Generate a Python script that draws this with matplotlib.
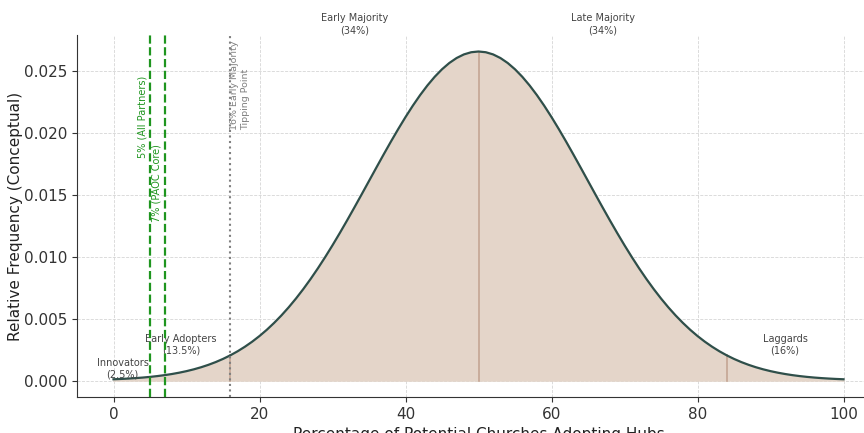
import numpy as np
import matplotlib.pyplot as plt

# adoption curve at every percent (0..100)
pct = list(range(0, 101))
freq = [0.000103, 0.000128, 0.000159, 0.000196, 0.000241, 0.000295, 0.000360, 0.000437,
        0.000528, 0.000635, 0.000760, 0.000906, 0.001075, 0.001270, 0.001493, 0.001748,
        0.002038, 0.002365, 0.002733, 0.003143, 0.003599, 0.004103, 0.004658, 0.005263,
        0.005921, 0.006632, 0.007395, 0.008209, 0.009072, 0.009982, 0.010934, 0.011924,
        0.012946, 0.013993, 0.015057, 0.016131, 0.017205, 0.018269, 0.019313, 0.020325,
        0.021296, 0.022215, 0.023070, 0.023852, 0.024551, 0.025159, 0.025667, 0.026069,
        0.026361, 0.026537, 0.026596, 0.026537, 0.026361, 0.026069, 0.025667, 0.025159,
        0.024551, 0.023852, 0.023070, 0.022215, 0.021296, 0.020325, 0.019313, 0.018269,
        0.017205, 0.016131, 0.015057, 0.013993, 0.012946, 0.011924, 0.010934, 0.009982,
        0.009072, 0.008209, 0.007395, 0.006632, 0.005921, 0.005263, 0.004658, 0.004103,
        0.003599, 0.003143, 0.002733, 0.002365, 0.002038, 0.001748, 0.001493, 0.001270,
        0.001075, 0.000906, 0.000760, 0.000635, 0.000528, 0.000437, 0.000360, 0.000295,
        0.000241, 0.000196, 0.000159, 0.000128, 0.000103]

# segment boundaries (x, curve height)
bounds = [16, 50, 84]
bound_h = [0.002038, 0.026596, 0.002038]

# category labels
cat_labels = ['Innovators\n(2.5%)', 'Early Adopters\n(13.5%)', 'Early Majority\n(34%)',
              'Late Majority\n(34%)', 'Laggards\n(16%)']
cat_x = [1.25, 9.25, 33, 67, 92]
cat_y = [0.00093, 0.0029, 0.0288, 0.0288, 0.0029]

# marker lines
partner_x = [5, 7]
partner_labels = ['5% (All Partners)', '7% (PAOC Core)']
partner_y = [0.0213, 0.0160]
tip_x = 16
tip_label = '16% Early Majority\nTipping Point'
tip_y = 0.0239

fig = plt.figure(figsize=(8.64, 4.33), dpi=100)
ax = fig.add_axes([77/864, 1-397/433, (880-77)/864, (397-35)/433])

ax.fill_between(pct, freq, color='#e4d5c9', zorder=1)
ax.plot(pct, freq, color='#2f4f4a', lw=1.6, zorder=3)
for bx, bh in zip(bounds, bound_h):
    ax.plot([bx, bx], [0, bh], color='#c4a693', lw=1.2, zorder=2)

for px, lab, py in zip(partner_x, partner_labels, partner_y):
    ax.axvline(px, color='#1f951f', ls='--', lw=1.6, zorder=4)
    ax.text(px - 0.4, py, lab, rotation=90, ha='right', va='center',
            color='#1f951f', fontsize=7)

ax.axvline(tip_x, color='grey', ls=':', lw=1.5, zorder=4)
ax.text(tip_x, tip_y, tip_label, rotation=90, ha='left', va='center',
        color='grey', fontsize=6.8)

for lab, x, y in zip(cat_labels, cat_x, cat_y):
    ax.text(x, y, lab, ha='center', va='center', fontsize=7, color='#444444',
            clip_on=False)

ax.set_xlim(-5, 105)
ax.set_ylim(-0.00133, 0.02793)
ax.set_xticks([0, 20, 40, 60, 80, 100])
ax.set_yticks([0, 0.005, 0.01, 0.015, 0.02, 0.025])
ax.set_yticklabels(['0.000', '0.005', '0.010', '0.015', '0.020', '0.025'])
ax.tick_params(labelsize=11, colors='#333333')
ax.grid(True, ls='--', lw=0.6, color='#cccccc', alpha=0.8)
ax.set_axisbelow(True)
for s in ['top', 'right']:
    ax.spines[s].set_visible(False)
for s in ['left', 'bottom']:
    ax.spines[s].set_color('#333333')

ax.set_xlabel('Percentage of Potential Churches Adopting Hubs', fontsize=11, color='#222222')
ax.set_ylabel('Relative Frequency (Conceptual)', fontsize=11, color='#222222', labelpad=1)

fig.savefig('out.png', dpi=100)
